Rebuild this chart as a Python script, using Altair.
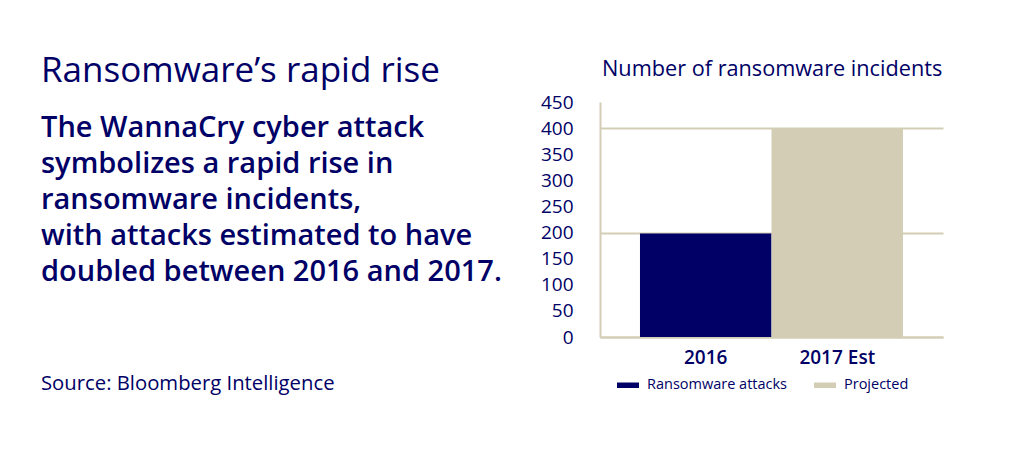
import altair as alt
import pandas as pd

# ---- data ----
years = ["2016", "2017 Est"]
incidents = [198, 400]
series = ["Ransomware attacks", "Projected"]
y_ticks = [0, 50, 100, 150, 200, 250, 300, 350, 400, 450]

headline = "Ransomware\u2019s rapid rise"
body_lines = [
    "The WannaCry cyber attack",
    "symbolizes a rapid rise in",
    "ransomware incidents,",
    "with attacks estimated to have",
    "doubled between 2016 and 2017.",
]
source_text = "Source: Bloomberg Intelligence"
chart_title = "Number of ransomware incidents"

NAVY = "#000066"
TAN = "#d4cdb6"
FONT = "Open Sans"

df = pd.DataFrame({"year": years, "incidents": incidents, "series": series})

bars = alt.Chart(df).mark_bar().encode(
    x=alt.X(
        "year:N",
        sort=years,
        scale=alt.Scale(paddingInner=0, paddingOuter=0.304),
        axis=alt.Axis(
            title=None, labelAngle=0, ticks=False, domain=True,
            domainColor=TAN, domainWidth=2,
            labelFont=FONT, labelFontSize=19, labelFontWeight=600,
            labelColor=NAVY, labelPadding=11,
        ),
    ),
    y=alt.Y(
        "incidents:Q",
        scale=alt.Scale(domain=[0, 450], nice=False),
        axis=alt.Axis(
            title=None, values=y_ticks, ticks=False,
            domainColor=TAN, domainWidth=2,
            grid=True, gridColor=TAN, gridWidth=2,
            gridOpacity={"expr": "datum.value % 200 == 0 ? 1 : 0"},
            labelFont=FONT, labelFontSize=19, labelColor=NAVY,
            labelPadding=27,
        ),
    ),
    color=alt.Color(
        "series:N",
        sort=series,
        scale=alt.Scale(domain=series, range=[NAVY, TAN]),
        legend=alt.Legend(
            title=None, orient="none", legendX=17, legendY=272,
            direction="horizontal",
            symbolType="M-1,-0.25H1V0.25H-1Z", symbolSize=484,
            symbolStrokeWidth=0,
            labelFont=FONT, labelFontSize=14.5, labelColor=NAVY,
            labelOffset=8, columnPadding=26,
        ),
    ),
)

one = pd.DataFrame({"k": [0]})

def label(text, x, y, size, weight="normal", line_height=None):
    kw = dict(align="left", baseline="alphabetic", font=FONT, fontSize=size,
              fontWeight=weight, color=NAVY)
    if line_height is not None:
        kw["lineHeight"] = line_height
    return alt.Chart(one).mark_text(**kw).encode(
        x=alt.value(x), y=alt.value(y), text=alt.value(text)
    )

t_head = label(headline, -559, -20, 35)
t_body = label(body_lines, -559, 35, 29, weight=600, line_height=36)
t_src = label(source_text, -559, 288, 20.3)
t_title = label(chart_title, 2, -26, 21.7)

chart = alt.layer(bars, t_head, t_body, t_src, t_title).properties(
    width=343, height=235,
    autosize=alt.AutoSizeParams(type="none"),
    padding={"left": 592, "top": 94, "right": 60, "bottom": 100},
    background="white",
).configure_view(stroke=None)

chart.save("out.html", embed_options={"renderer": "svg", "actions": False})
